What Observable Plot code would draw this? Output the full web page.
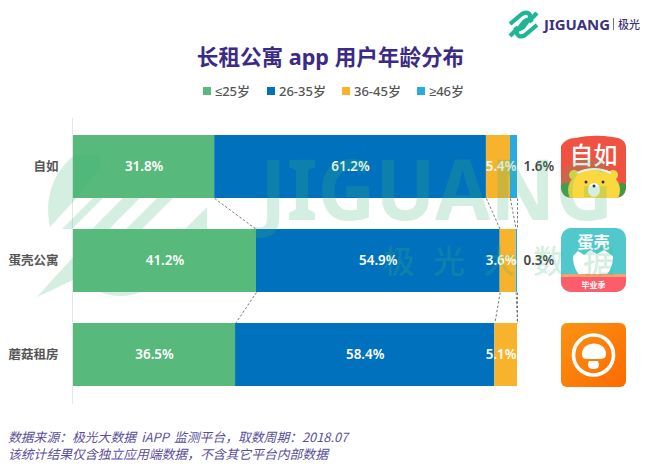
<!DOCTYPE html>
<html><head><meta charset="utf-8">
<script src="https://cdn.jsdelivr.net/npm/d3@7"></script>
<script src="https://cdn.jsdelivr.net/npm/@observablehq/plot@0.6"></script>
<style>
html,body{margin:0;padding:0;background:#fff}
#page{position:relative;width:650px;height:464px;overflow:hidden;font-family:"Noto Sans CJK SC","Noto Sans",sans-serif}
#head{height:118px;position:relative}
#title{position:absolute;left:193px;width:275px;top:42px;text-align:center;white-space:nowrap;font-size:21.6px;font-weight:700;color:#3b2b86;line-height:30px;font-family:"Noto Sans","Noto Sans CJK SC",sans-serif}
#legend{position:absolute;left:0;top:82px;height:18px;width:650px}
#legend span{position:absolute;top:0;font-family:"Noto Sans","Liberation Sans","Noto Sans CJK SC",sans-serif;font-size:13px;line-height:18px;font-weight:500;color:#555;white-space:nowrap}
#legend i{position:absolute;top:5px;width:8px;height:8px}
#chart svg{display:block}
#caption{position:absolute;left:8px;top:428px;font-size:12.8px;line-height:17px;font-style:italic;color:#5a4f9c;white-space:nowrap}
#caption b{font-weight:400;word-spacing:2.4px}
.deco{position:absolute;left:0;top:0;pointer-events:none}
</style></head><body>
<div id="page">
  <div id="head"><div id="title">长租公寓 app 用户年龄分布</div><div id="legend"></div></div>
  <div id="chart"></div>
  <div id="caption"><b>数据来源：极光大数据 iAPP 监测平台，取数周期：2018.07</b><br>该统计结果仅含独立应用端数据，不含其它平台内部数据</div>
  <svg class="deco" id="icons" width="650" height="464" viewBox="0 0 650 464">
    <!-- brand mark -->
    <g fill="none" stroke="#1fb596" stroke-width="4.2" stroke-linecap="butt">
      <path d="M510 24 L522 14 C526 11 531 13 530 18 L524 26 C521 30 517 30 515 27"/>
      <path d="M537 25 L525 35 C521 38 516 36 517 31 L523 23 C526 19 530 19 532 22"/>
      <path d="M510 36 L518 28"/><path d="M529 21 L537 13"/>
    </g>
    <text x="544" y="30" font-family="Noto Sans,sans-serif" font-weight="700" font-size="14.5" fill="#3c3180" textLength="66" lengthAdjust="spacingAndGlyphs">JIGUANG</text>
    <rect x="613" y="18" width="1" height="12" fill="#777"/>
    <text x="618" y="29" font-family="Noto Sans CJK SC" font-size="11" font-weight="500" fill="#3c3180">极光</text>
    <!-- 自如 -->
    <defs>
      <clipPath id="c1"><path d="M561 146 Q566 138 575 138 Q594 134 612 137 Q626 138 626 148 L626 186 Q626 198 614 198 L573 198 Q561 198 561 186 Z"/></clipPath>
      <clipPath id="c2"><rect x="561" y="228" width="65" height="64" rx="10"/></clipPath>
    </defs>
    <g clip-path="url(#c1)">
      <rect x="561" y="134" width="65" height="65" fill="#ef5240"/>
      <circle cx="566" cy="190" r="7" fill="#3f9a45"/><circle cx="622" cy="190" r="7" fill="#3f9a45"/>
      <ellipse cx="594" cy="190" rx="26" ry="21" fill="#fbd83f"/>
      <circle cx="574" cy="175" r="5" fill="#fbd83f"/><circle cx="613" cy="175" r="5" fill="#fbd83f"/>
      <path d="M577 173 Q594 165 611 173" stroke="#fff" stroke-width="2" fill="none"/>
      <ellipse cx="594" cy="190" rx="6" ry="7" fill="#fff"/>
      <circle cx="586" cy="182" r="1.5" fill="#333"/><circle cx="603" cy="182" r="1.5" fill="#333"/><circle cx="594" cy="186" r="1.5" fill="#333"/>
    </g>
    <text x="593.5" y="164" text-anchor="middle" font-family="Noto Sans CJK SC" font-size="24" font-weight="500" fill="#fff">自如</text>
    <!-- 蛋壳 -->
    <g clip-path="url(#c2)">
      <rect x="561" y="228" width="65" height="64" fill="#51c9cc"/>
      <path d="M573 256 L578 251 L584 255 L590 250 L597 254 L604 250 L610 254 L613 256 C613 272 604 280 593 280 C582 280 573 272 573 256 Z" fill="#fff"/>
      <rect x="561" y="274" width="65" height="18" fill="#fd5d6a"/>
      <rect x="561" y="274" width="65" height="3" fill="#f8a06f"/>
    </g>
    <text x="593.5" y="248" text-anchor="middle" font-family="Noto Sans CJK SC" font-size="16" font-weight="700" fill="#fff">蛋壳</text>
    <text x="593.5" y="288" text-anchor="middle" font-family="Noto Sans CJK SC" font-size="8" font-weight="700" fill="#fff">毕业季</text>
    <!-- 蘑菇 -->
    <defs><linearGradient id="g3" x1="0" y1="0" x2="1" y2="1"><stop offset="0" stop-color="#fb9314"/><stop offset="1" stop-color="#fd6a00"/></linearGradient></defs>
    <rect x="561" y="323" width="65" height="64" rx="6" fill="url(#g3)"/>
    <circle cx="593.5" cy="355" r="20" fill="none" stroke="#fff" stroke-width="3.6"/>
    <path d="M582 354 C582 340 606 340 606 354 C606 358 603 359 600 359 L587 359 C584 359 582 358 582 354 Z" fill="#fff"/>
    <path d="M589 361 L598 361 C600 366 599 369 593.5 369 C588 369 587 366 589 361 Z" fill="#fff"/>
  </svg>
  <svg class="deco" id="mark" width="650" height="464" viewBox="0 0 650 464">
    <g fill="#3cb878" fill-opacity="0.22">
      <path d="M50 227 C44 200 52 172 75 155 L100 155 L100 168 L73 202 Z"/>
      <path d="M93 198 L103 198 L72 229 L62 229 Z"/>
      <path d="M123 198 L140 198 L109 229 L92 229 Z"/>
      <path d="M157 198 L173 198 L142 229 L126 229 Z"/>
      <path d="M207 207 L207 229 L185 229 Z"/>
      <path d="M37 297 L73 257 L73 280 Z"/>
      <path d="M100 292 L142 292 Q120 300 100 292 Z"/>
      <text x="260" y="220" font-family="Noto Sans,sans-serif" font-weight="700" font-size="84" textLength="353" lengthAdjust="spacingAndGlyphs">JIGUANG</text>
      <g font-family="Noto Sans CJK SC" font-size="32" font-weight="500">
        <text x="383" y="273">极</text><text x="433" y="273">光</text><text x="483" y="273">大</text><text x="533" y="273">数</text><text x="583" y="273">据</text>
      </g>
    </g>
  </svg>
</div>
<script>
const apps = ["自如", "蛋壳公寓", "蘑菇租房"];
const ages = ["≤25岁", "26-35岁", "36-45岁", "≥46岁"];
const colors = ["#57b97b", "#0071bc", "#f7b32c", "#29abe2"];
const under25 = [31.8, 41.2, 36.5];
const age26to35 = [61.2, 54.9, 58.4];
const age36to45 = [5.4, 3.6, 5.1];
const over46 = [1.6, 0.3, 0];
const series = [under25, age26to35, age36to45, over46];

const rows = ages.flatMap((age, s) => apps.map((app, i) => ({app, age, s, value: series[s][i]})));
const pct = v => v.toFixed(1) + "%";

// cumulative share at the end of each age band, per app, joined between neighbouring bars
const cumulative = apps.map((_, i) => d3.cumsum(series.map(v => v[i])));
const links = d3.pairs(apps.map((app, i) => ({app, cum: cumulative[i]})))
  .flatMap(([a, b]) => ages.map((_, s) => ({from: a.app, to: b.app, x1: Math.min(a.cum[s], 100), x2: Math.min(b.cum[s], 100)})));

const swatchLefts = [203, 267, 342, 417];
const legend = d3.select("#legend");
ages.forEach((a, i) => {
  legend.append("i").style("left", swatchLefts[i] + "px").style("background", colors[i]);
  legend.append("span").style("left", (swatchLefts[i] + 12) + "px").text(a);
});

const font = {fontFamily: '"Noto Sans","Noto Sans CJK SC",sans-serif', fontWeight: 600, fontSize: 13.4};

const plot = Plot.plot({
  width: 650, height: 286,
  marginLeft: 73, marginRight: 133, marginTop: 0, marginBottom: 0,
  style: {background: "transparent"},
  x: {domain: [0, 100], axis: null},
  y: {domain: apps, range: [17, 268], paddingInner: 1 / 3, paddingOuter: 0, align: 0.5, label: null},
  color: {domain: ages, range: colors},
  marks: [
    Plot.ruleX([0], {stroke: "#e6e6e6", strokeWidth: 1, dx: -1}),
    Plot.link(links, {
      x1: "x1", x2: "x2", y1: "from", y2: "to",
      stroke: "#666", strokeWidth: 0.9, strokeDasharray: "2.4,2",
      render(index, scales, values, dimensions, context, next) {
        const half = scales.y.bandwidth() / 2;
        return next(index, scales, {
          ...values,
          y1: Array.from(values.y1, v => v + half),
          y2: Array.from(values.y2, v => v - half)
        }, dimensions, context);
      }
    }),
    Plot.barX(rows, {x: "value", y: "app", fill: "age", order: null}),
    Plot.text(rows, Plot.stackX({
      x: "value", y: "app", z: "age", order: null,
      text: d => d.s < 2 ? pct(d.value) : null,
      fill: "#fff", ...font
    })),
    // the narrow orange segments carry their label flush with the bar end
    Plot.text(rows.filter(d => d.s === 2), {
      x: () => 100, y: "app", text: d => pct(d.value),
      textAnchor: "end", dx: -1, fill: "#fff", ...font
    }),
    // the thinnest segments are labelled outside the bar
    Plot.text(rows.filter(d => d.s === 3 && d.value > 0), {
      x: () => 100, y: "app", text: d => pct(d.value),
      textAnchor: "start", dx: 6, fill: "#444", ...font
    }),
    Plot.axisY({
      tickSize: 0, tickPadding: 15, label: null,
      fontFamily: '"Noto Sans CJK SC",sans-serif', fontSize: 12.5, fontWeight: 700, fill: "#555"
    })
  ]
});
document.getElementById("chart").appendChild(plot);
</script>
</body></html>
